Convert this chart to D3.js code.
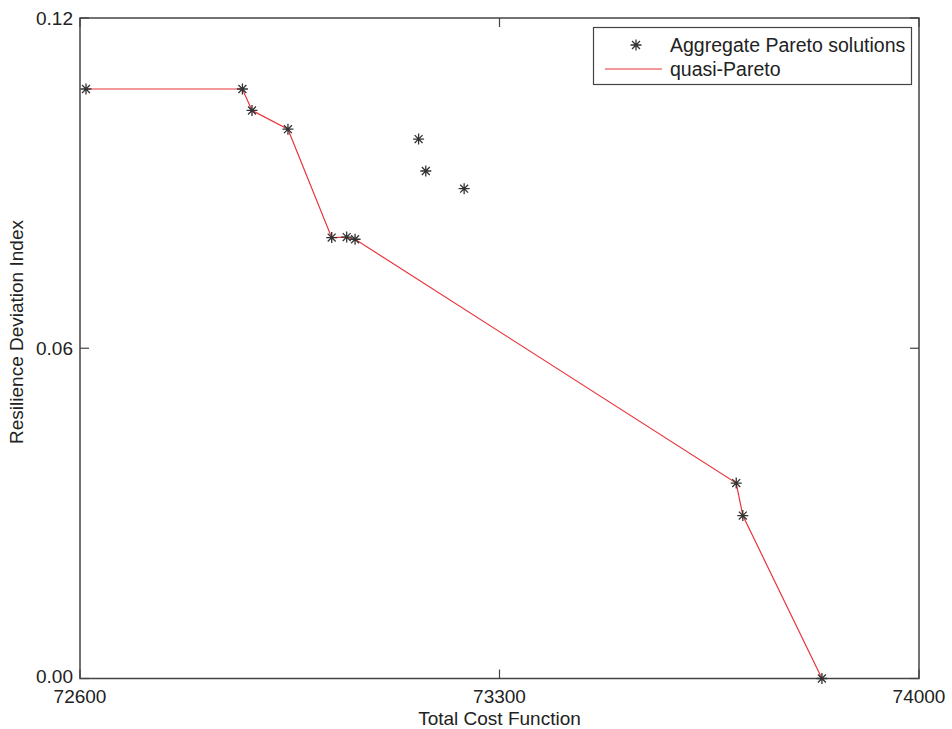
<!DOCTYPE html>
<html>
<head>
<meta charset="utf-8">
<script src="https://cdn.jsdelivr.net/npm/d3@7/dist/d3.min.js"></script>
<style>
  html, body { margin: 0; padding: 0; background: #fff; }
  svg { display: block; font-family: "Liberation Sans", Arial, sans-serif; }
</style>
</head>
<body>
<svg id="chart" width="952" height="729"></svg>
<script>
// Total cost vs. resilience deviation index for the aggregate Pareto set
const costs = [72610, 72871, 72887, 72947, 73020, 73045, 73059, 73165, 73177, 73241, 73695, 73706, 73838];
const resilience = [0.1071, 0.1071, 0.1032, 0.0998, 0.0801, 0.0802, 0.0798, 0.0980, 0.0922, 0.0890, 0.0355, 0.0296, 0.0];
// indices of the solutions that form the quasi-Pareto front
const frontIdx = [0, 1, 2, 3, 4, 5, 6, 10, 11, 12];

const xTicks = [72600, 73300, 74000];
const yTicks = [0.00, 0.06, 0.12];
const xLabel = "Total Cost Function";
const yLabel = "Resilience Deviation Index";
const legendLabels = ["Aggregate Pareto solutions", "quasi-Pareto"];

(function draw() {
  const svg = d3.select("#chart");
  const mLeft = 80, mRight = 919, mTop = 18, mBottom = 678.5;
  const axisColor = "#444";

  const x = d3.scaleLinear().domain([72600, 74000]).range([mLeft, mRight]);
  const y = d3.scaleLinear().domain([0, 0.12]).range([mBottom, mTop]);

  // plot box
  svg.append("rect")
    .attr("x", mLeft).attr("y", mTop)
    .attr("width", mRight - mLeft).attr("height", mBottom - mTop)
    .attr("fill", "none").attr("stroke", axisColor).attr("stroke-width", 1.5);

  // ticks (inward, on all four sides)
  const tickLen = 9;
  const g = svg.append("g");
  xTicks.forEach(t => {
    g.append("line").attr("x1", x(t)).attr("x2", x(t)).attr("y1", mBottom).attr("y2", mBottom - tickLen)
      .attr("stroke", axisColor).attr("stroke-width", 1.2);
    g.append("line").attr("x1", x(t)).attr("x2", x(t)).attr("y1", mTop).attr("y2", mTop + tickLen)
      .attr("stroke", axisColor).attr("stroke-width", 1.2);
    g.append("text").attr("x", x(t)).attr("y", 703)
      .attr("text-anchor", "middle").attr("font-size", 19).attr("fill", "#222")
      .text(d3.format("d")(t));
  });
  yTicks.forEach(t => {
    g.append("line").attr("x1", mLeft).attr("x2", mLeft + tickLen).attr("y1", y(t)).attr("y2", y(t))
      .attr("stroke", axisColor).attr("stroke-width", 1.2);
    g.append("line").attr("x1", mRight).attr("x2", mRight - tickLen).attr("y1", y(t)).attr("y2", y(t))
      .attr("stroke", axisColor).attr("stroke-width", 1.2);
    g.append("text").attr("x", 73).attr("y", y(t) - (t === 0 ? 2 : 0)).attr("dy", "0.36em")
      .attr("text-anchor", "end").attr("font-size", 19).attr("fill", "#222")
      .text(d3.format(".2f")(t));
  });

  // axis titles
  svg.append("text").attr("x", (mLeft + mRight) / 2).attr("y", 725)
    .attr("text-anchor", "middle").attr("font-size", 19).attr("fill", "#222").text(xLabel);
  svg.append("text").attr("transform", "translate(23,332) rotate(-90)")
    .attr("text-anchor", "middle").attr("font-size", 19).attr("fill", "#222").text(yLabel);

  // quasi-Pareto front line
  const line = d3.line().x(i => x(costs[i])).y(i => y(resilience[i]));
  svg.append("path").datum(frontIdx)
    .attr("d", line).attr("fill", "none")
    .attr("stroke", "#e8353a").attr("stroke-width", 1.2);

  // asterisk marker
  function asterisk(sel, cx, cy, r) {
    const d = r * 0.72;
    const p = `M${cx - r},${cy}H${cx + r}M${cx},${cy - r}V${cy + r}` +
              `M${cx - d},${cy - d}L${cx + d},${cy + d}M${cx - d},${cy + d}L${cx + d},${cy - d}`;
    sel.append("path").attr("d", p).attr("stroke", "#333").attr("stroke-width", 1.3).attr("fill", "none");
  }
  const pts = svg.append("g");
  costs.forEach((c, i) => asterisk(pts, x(c), y(resilience[i]), 5.5));

  // legend
  const lg = svg.append("g");
  lg.append("rect").attr("x", 593.5).attr("y", 27.5).attr("width", 318).attr("height", 57)
    .attr("fill", "#fff").attr("stroke", axisColor).attr("stroke-width", 1.2);
  asterisk(lg, 636, 45, 5.5);
  lg.append("text").attr("x", 670).attr("y", 45).attr("dy", "0.36em")
    .attr("font-size", 19.5).attr("fill", "#222").text(legendLabels[0]);
  lg.append("line").attr("x1", 605).attr("x2", 662).attr("y1", 69).attr("y2", 69)
    .attr("stroke", "#e8353a").attr("stroke-width", 1.2);
  lg.append("text").attr("x", 670).attr("y", 69).attr("dy", "0.36em")
    .attr("font-size", 19.5).attr("fill", "#222").text(legendLabels[1]);
})();
</script>
</body>
</html>
